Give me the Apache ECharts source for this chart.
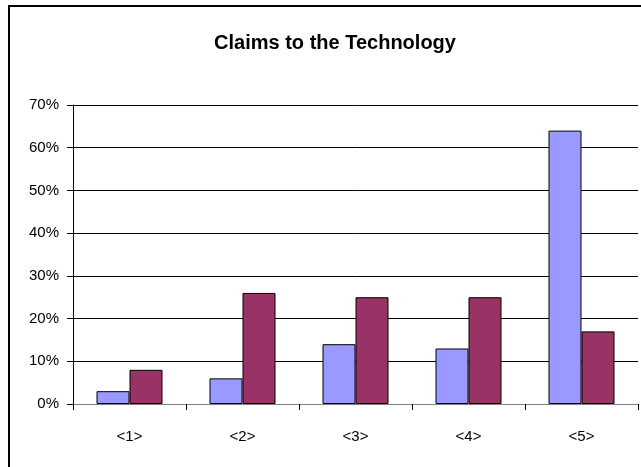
<!DOCTYPE html>
<html>
<head>
    <meta charset="utf-8">
    <title>Claims to the Technology</title>
    <script src="https://cdn.jsdelivr.net/npm/echarts@6/dist/echarts.min.js"></script>
    <style>
      html, body { margin: 0; padding: 0; background: #fff; }
    </style>
</head>
<body>
    <div id="main" style="width:641px;height:467px;"></div>
    <script type="text/javascript">
      // data
      var categories = ['<1>', '<2>', '<3>', '<4>', '<5>'];
      var seriesA = [3, 6, 14, 13, 64];
      var seriesB = [8, 26, 25, 25, 17];
      var yTicks = [0, 10, 20, 30, 40, 50, 60, 70];

      var echart = echarts.init(document.getElementById('main'));
      var font = '"Liberation Sans", Arial, sans-serif';
      var option = {
        animation: false,
        backgroundColor: '#fff',
        textStyle: { fontFamily: font },
        // outer chart border
        graphic: [{
          type: 'rect',
          shape: { x: 9, y: 6, width: 700, height: 520 },
          style: { fill: 'none', stroke: '#000', lineWidth: 2 },
          silent: true
        }],
        title: {
          text: 'Claims to the Technology',
          left: 330, top: 28, textAlign: 'center',
          textStyle: { fontFamily: font, fontSize: 20, fontWeight: 'bold', color: '#000' }
        },
        grid: { left: 73, right: 3, top: 105, bottom: 63, containLabel: false },
        xAxis: {
          type: 'category',
          data: categories,
          axisLine: { lineStyle: { color: '#808080', width: 1 } },
          axisTick: { show: true, inside: false, length: 6, lineStyle: { color: '#000' } },
          axisLabel: { color: '#000', fontSize: 15, margin: 25, fontFamily: font }
        },
        yAxis: {
          type: 'value',
          min: yTicks[0], max: yTicks[yTicks.length - 1], interval: 10,
          axisLine: { show: true, lineStyle: { color: '#000', width: 1 } },
          axisTick: { show: true, length: 6, lineStyle: { color: '#000' } },
          axisLabel: { color: '#000', fontSize: 15, margin: 14, fontFamily: font, formatter: '{value}%' },
          splitLine: { lineStyle: { color: '#000', width: 1 } }
        },
        series: [
          { name: 'A', type: 'bar', data: seriesA, barWidth: 33, barGap: '0%',
            itemStyle: { color: '#9999FF', borderColor: '#000', borderWidth: 1 } },
          { name: 'B', type: 'bar', data: seriesB, barWidth: 33,
            itemStyle: { color: '#993366', borderColor: '#000', borderWidth: 1 } }
        ]
      };
      echart.setOption(option);
    </script>
</body>
</html>
